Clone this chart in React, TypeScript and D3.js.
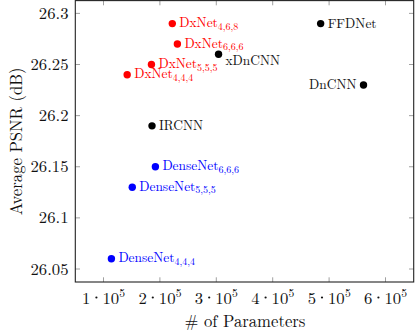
import React from "react";
import * as d3 from "d3";

const W = 415;
const H = 336;

// data
const redNames = ["DxNet", "DxNet", "DxNet", "DxNet"];
const redSubs = ["4,6,8", "6,6,6", "5,5,5", "4,4,4"];
const redParams = [222000, 231000, 185000, 142000];
const redPsnr = [26.29, 26.27, 26.25, 26.24];

const blueNames = ["DenseNet", "DenseNet", "DenseNet"];
const blueSubs = ["6,6,6", "5,5,5", "4,4,4"];
const blueParams = [192000, 151000, 114000];
const bluePsnr = [26.15, 26.13, 26.06];

const blackNames = ["IRCNN", "xDnCNN", "FFDNet", "DnCNN"];
const blackParams = [186000, 304000, 485000, 561000];
const blackPsnr = [26.19, 26.26, 26.29, 26.23];
const blackPlacement = ["right", "belowright", "right", "left"];

const xTicks = [1, 2, 3, 4, 5, 6];
const yTicks = [26.05, 26.1, 26.15, 26.2, 26.25, 26.3];
const yTickLabels = ["26.05", "26.1", "26.15", "26.2", "26.25", "26.3"];

const fs = { fontFamily: "'Latin Modern Roman', 'Liberation Serif', monospace" };

export default function App() {
  const left = 75.3, right = 413.7, top = 0.6, bottom = 282;
  const x = d3.scaleLinear().domain([50000, 650000]).range([left, right]);
  const y = d3.scaleLinear().domain([26.0373, 26.3125]).range([bottom, top]);
  const tl = 4.7;
  const r = 3.7;

  const subLabel = (name: string, sub: string, px: number, py: number, color: string, key: string) => (
    <text key={key} x={px + 7} y={py - 0.8} dy="0.33em" fill={color} fontSize={13.4} style={fs}>
      {name}
      <tspan fontSize={10} dy={2.4}>{sub}</tspan>
    </text>
  );

  return (
    <svg width={W} height={H} style={{ position: "absolute", left: 0, top: 0, background: "#fff" }}>
      <rect x={0} y={0} width={W} height={H} fill="#fff" />
      {xTicks.map((t) => (
        <g key={"xt" + t} stroke="#888" strokeWidth={0.8}>
          <line x1={x(t * 1e5)} x2={x(t * 1e5)} y1={bottom} y2={bottom - tl} />
          <line x1={x(t * 1e5)} x2={x(t * 1e5)} y1={top} y2={top + tl} />
        </g>
      ))}
      {yTicks.map((t) => (
        <g key={"yt" + t} stroke="#888" strokeWidth={0.8}>
          <line x1={left} x2={left + tl} y1={y(t)} y2={y(t)} />
          <line x1={right} x2={right - tl} y1={y(t)} y2={y(t)} />
        </g>
      ))}
      <rect x={left} y={top} width={right - left} height={bottom - top} fill="none" stroke="#222" strokeWidth={1.1} />
      {xTicks.map((t) => {
        const c = x(t * 1e5);
        return (
          <g key={"xl" + t} fontSize={16.7} style={fs} fill="#111">
            <text x={c - 13.1} y={303.5} textAnchor="end">{String(t)}</text>
            <circle cx={c - 7.1} cy={297.5} r={1.1} fill="#111" />
            <text x={c - 1.1} y={303.5} textAnchor="start">10</text>
            <text x={c + 15.8} y={296.5} textAnchor="start" fontSize={11.7}>5</text>
          </g>
        );
      })}
      {yTicks.map((t, i) => (
        <text key={"yl" + t} x={68.5} y={y(t)} dy="0.33em" textAnchor="end" fontSize={16.7} style={fs} fill="#111">
          {yTickLabels[i]}
        </text>
      ))}
      <text x={245} y={327} textAnchor="middle" fontSize={16.7} style={fs} fill="#111">
        # of Parameters
      </text>
      <text transform={`translate(21.5, ${(top + bottom) / 2}) rotate(-90)`} textAnchor="middle" fontSize={16.7} style={fs} fill="#111">
        Average PSNR (dB)
      </text>
      {redParams.map((p, i) => (
        <g key={"r" + i}>
          <circle cx={x(p)} cy={y(redPsnr[i])} r={r} fill="#ff0000" />
          {subLabel(redNames[i], redSubs[i], x(p), y(redPsnr[i]), "#ff0000", "rl" + i)}
        </g>
      ))}
      {blueParams.map((p, i) => (
        <g key={"b" + i}>
          <circle cx={x(p)} cy={y(bluePsnr[i])} r={r} fill="#0000ff" />
          {subLabel(blueNames[i], blueSubs[i], x(p), y(bluePsnr[i]), "#0000ff", "bl" + i)}
        </g>
      ))}
      {blackParams.map((p, i) => {
        const cx = x(p), cy = y(blackPsnr[i]);
        const pl = blackPlacement[i];
        const tx = pl === "left" ? cx - 7 : cx + 7;
        const ty = pl === "belowright" ? cy + 6.5 : cy;
        return (
          <g key={"k" + i}>
            <circle cx={cx} cy={cy} r={r} fill="#000" />
            <text x={tx} y={ty} dy="0.33em" textAnchor={pl === "left" ? "end" : "start"} fontSize={13.4} style={fs} fill="#111">
              {blackNames[i]}
            </text>
          </g>
        );
      })}
    </svg>
  );
}
